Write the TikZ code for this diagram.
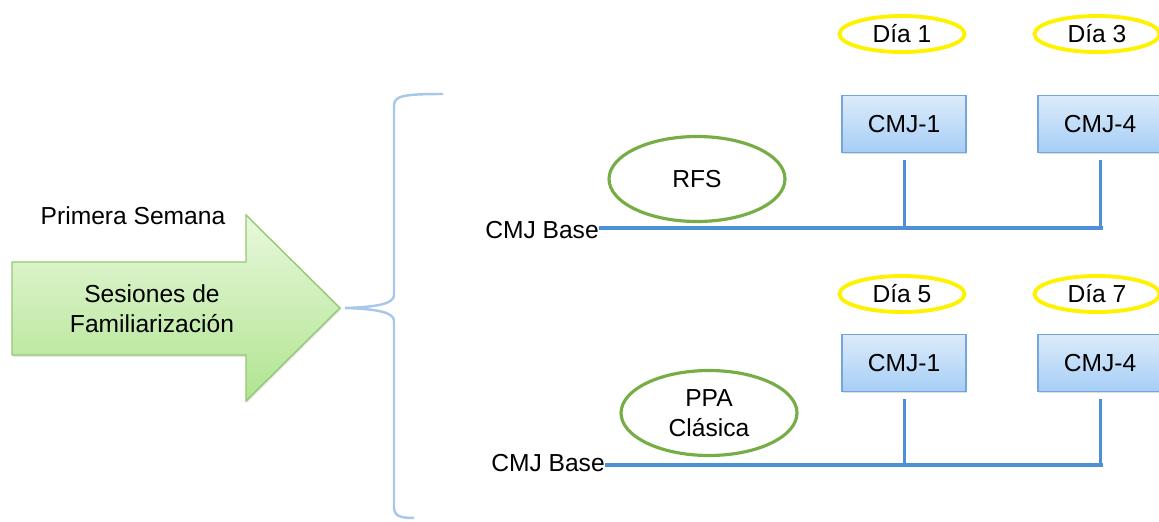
\documentclass[tikz,border=0pt]{standalone}
\usepackage{fontspec}
\setmainfont{Liberation Sans}
\usetikzlibrary{shapes.geometric,shadows}
\definecolor{diaamarillo}{HTML}{FFF200}
\definecolor{elipseverde}{HTML}{76AD45}
\definecolor{cajaborde}{HTML}{72A6DC}
\definecolor{cajaarriba}{HTML}{DCEBFA}
\definecolor{cajaabajo}{HTML}{A6CEF6}
\definecolor{lineaazul}{HTML}{4D90D6}
\definecolor{llave}{HTML}{A8C8EA}
\definecolor{flechaarriba}{HTML}{E8F8DC}
\definecolor{flechaabajo}{HTML}{B0E490}
\definecolor{flechaborde}{HTML}{93C972}
\tikzset{
  texto/.style={font=\fontsize{14}{17}\selectfont, inner sep=0pt},
  dia/.style={texto, ellipse, draw=diaamarillo, line width=2.2pt,
    minimum width=2.5cm, minimum height=0.72cm},
  prueba/.style={texto, ellipse, draw=elipseverde, line width=1.8pt,
    minimum width=3.52cm, minimum height=1.7cm, align=center},
  caja/.style={texto, draw=cajaborde, line width=0.8pt,
    top color=cajaarriba, bottom color=cajaabajo,
    minimum width=2.48cm, minimum height=1.14cm,
    drop shadow={opacity=0.25, shadow xshift=0.6pt, shadow yshift=-1pt}},
  linea/.style={draw=lineaazul, line width=2.2pt},
  vertical/.style={draw=lineaazul, line width=1.7pt, shorten <=4pt},
}
\begin{document}
\begin{tikzpicture}[x=0.02cm, y=-0.02cm]
  \useasboundingbox (0,0) rectangle (1159,521);
  % flecha de la primera semana
  \draw[flechaborde, line width=0.8pt, top color=flechaarriba, bottom color=flechaabajo,
    drop shadow={opacity=0.2, shadow xshift=0.6pt, shadow yshift=-1pt}]
    (12,262) -- (246,262) -- (246,215) -- (340,308) -- (246,401)
    -- (246,355) -- (12,355) -- cycle;
  \node[texto] (semana) at (133,216) {Primera Semana};
  \node[texto, align=center] (sesiones) at (152,309) {Sesiones de\\Familiarización};

  % llave
  \draw[llave, line width=1.4pt]
    (443,94) .. controls (402,94) and (394,96) .. (394,106) -- (394,295)
    .. controls (394,303) and (380,307) .. (345,308)
    .. controls (380,309) and (394,313) .. (394,321) -- (394,507)
    .. controls (394,516) and (400,518) .. (414,518);

  % panel superior
  \node[dia] (dia1) at (902,34) {Día 1};
  \node[dia] (dia3) at (1097,34) {Día 3};
  \node[caja] (cmj1a) at (904,124) {CMJ-1};
  \node[caja] (cmj4a) at (1100,124) {CMJ-4};
  \node[prueba] (rfs) at (697,179) {RFS};
  \node[texto] (basea) at (542,230) {CMJ Base};
  \coordinate (fina) at (1103,228);
  \draw[linea] (basea.east |- fina) -- (fina);
  \draw[vertical] (cmj1a.south) -- (cmj1a.south |- fina);
  \draw[vertical] (cmj4a.south) -- (cmj4a.south |- fina);

  % panel inferior
  \node[dia] (dia5) at (902,294) {Día 5};
  \node[dia] (dia7) at (1097,294) {Día 7};
  \node[caja] (cmj1b) at (904,363) {CMJ-1};
  \node[caja] (cmj4b) at (1100,363) {CMJ-4};
  \node[prueba] (ppa) at (709,413) {PPA\\Clásica};
  \node[texto] (baseb) at (548,463) {CMJ Base};
  \coordinate (finb) at (1103,465);
  \draw[linea] (baseb.east |- finb) -- (finb);
  \draw[vertical] (cmj1b.south) -- (cmj1b.south |- finb);
  \draw[vertical] (cmj4b.south) -- (cmj4b.south |- finb);
\end{tikzpicture}
\end{document}
